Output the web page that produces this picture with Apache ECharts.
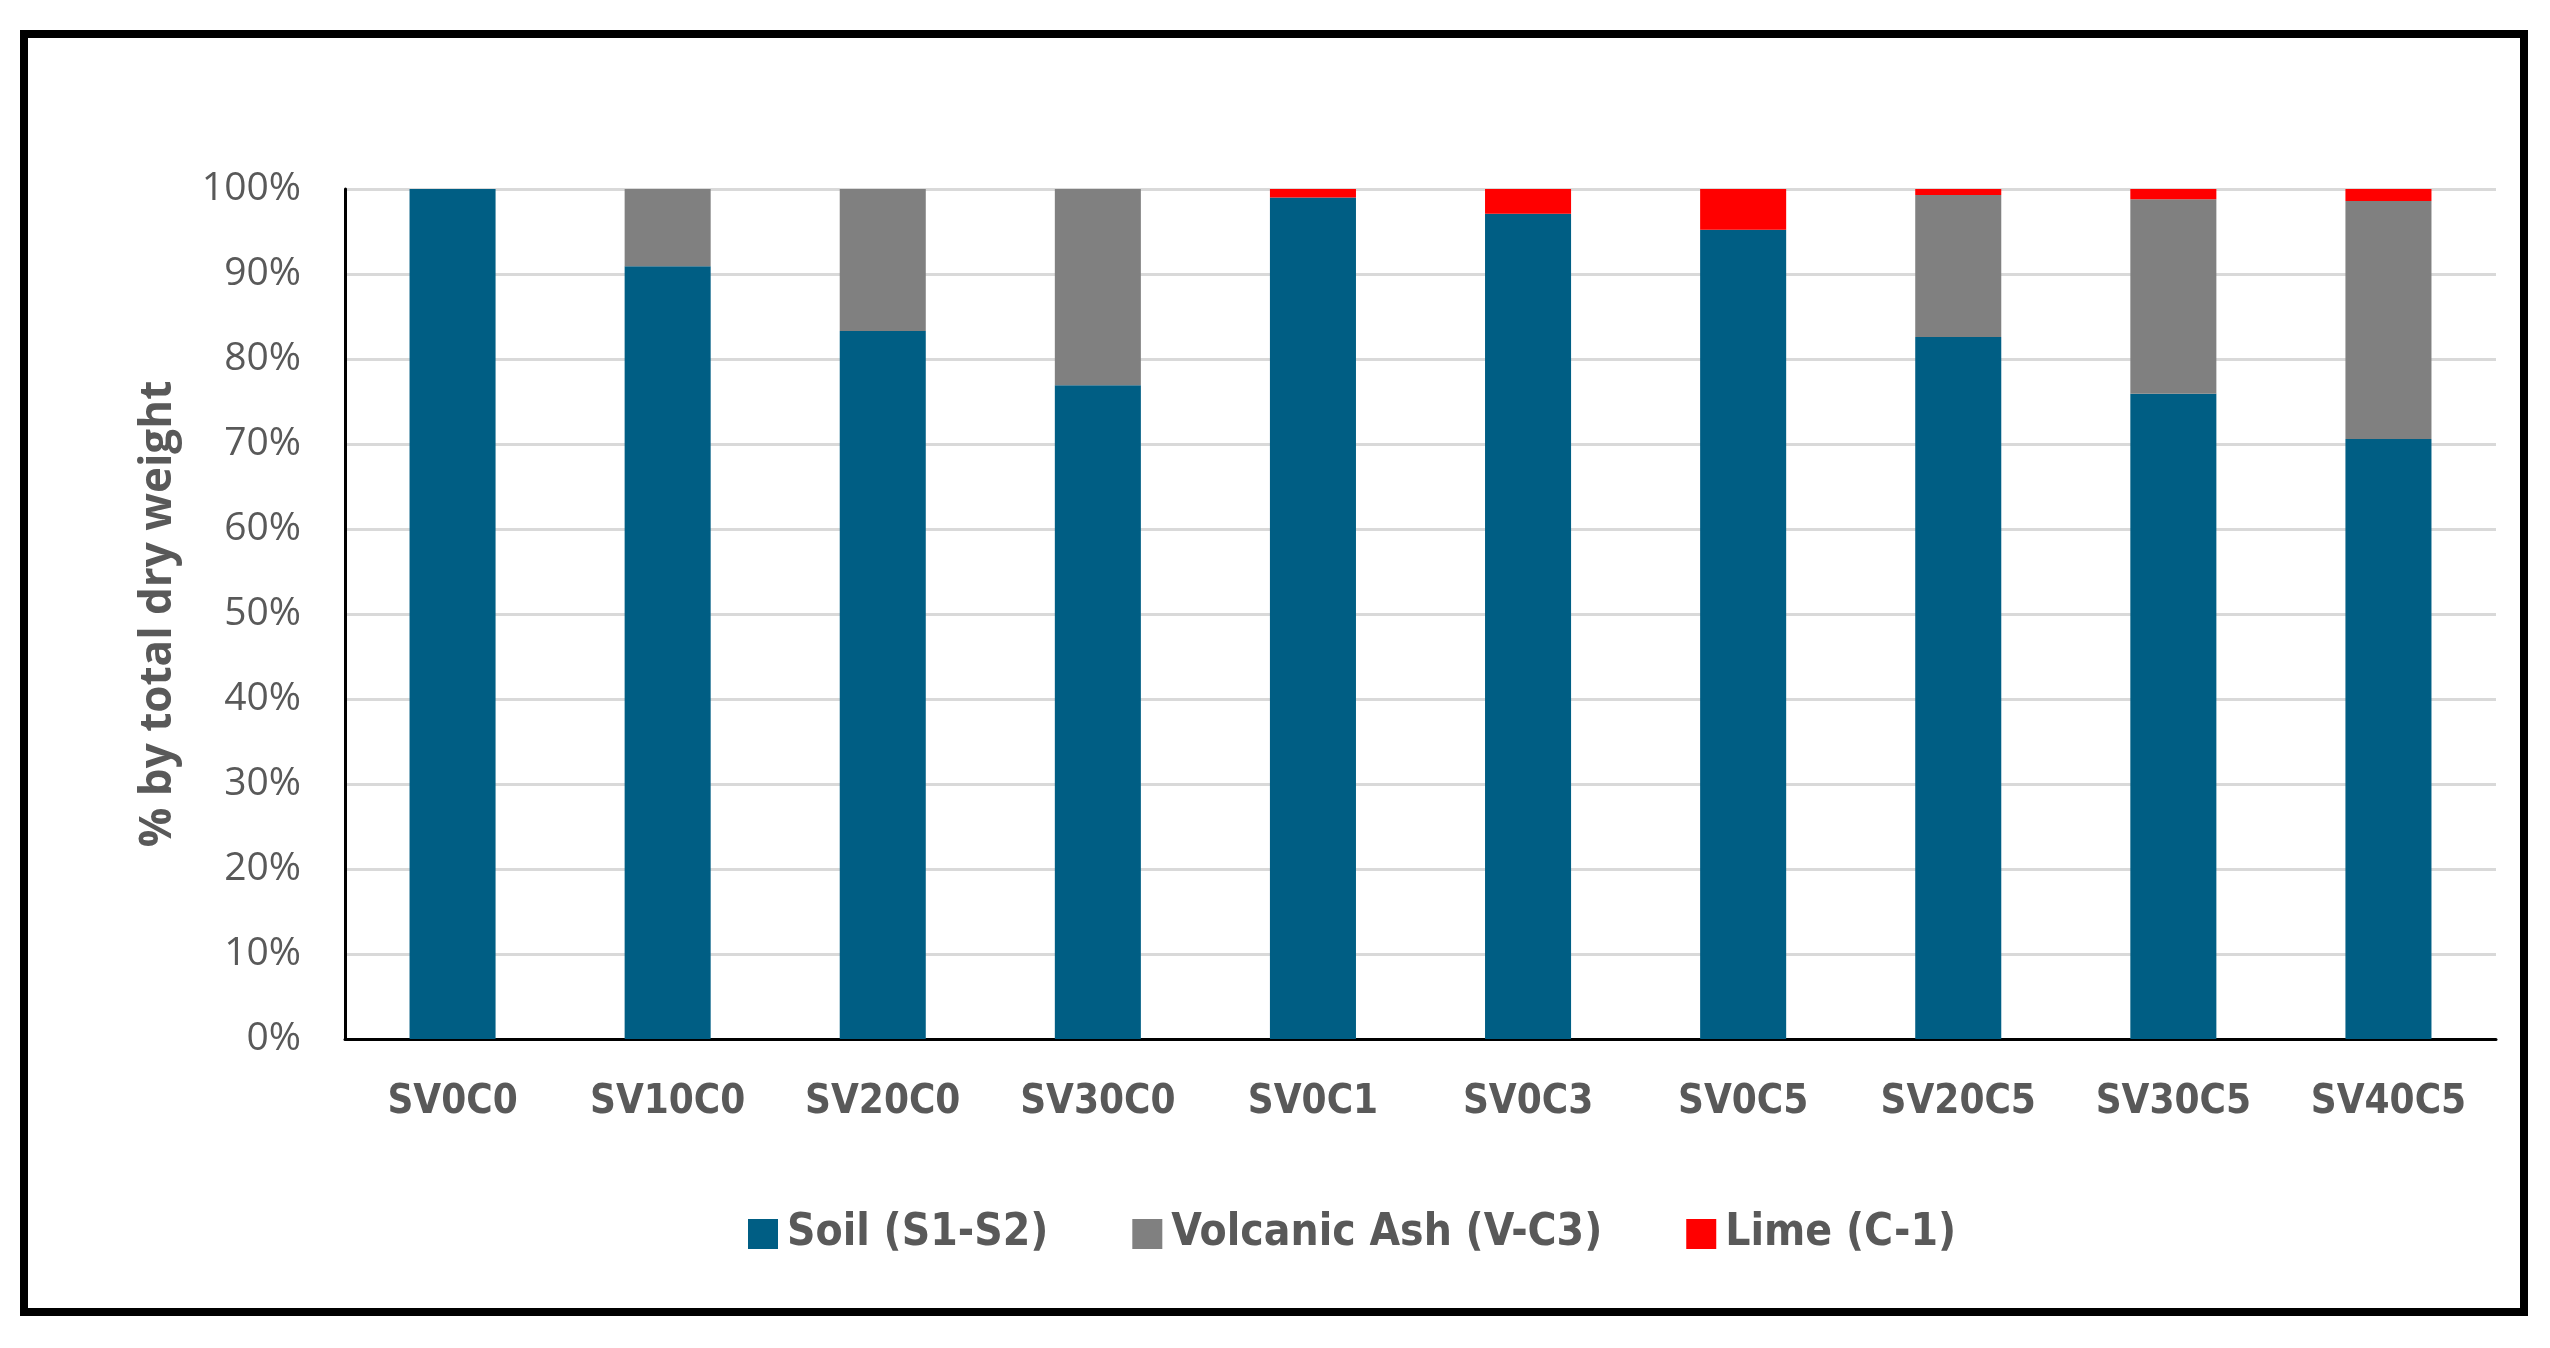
<!DOCTYPE html>
<html>
<head>
<meta charset="utf-8">
<script src="https://cdn.jsdelivr.net/npm/echarts@6/dist/echarts.min.js"></script>
<style>
html,body{margin:0;padding:0;background:#fff;}
#chart{position:absolute;left:0;top:0;width:2550px;height:1348px;}
#frame{position:absolute;left:20px;top:30px;width:2492px;height:1270px;border:8px solid #000;pointer-events:none;}
</style>
</head>
<body>
<div id="chart"></div>
<div id="frame"></div>
<script>
const categories = ['SV0C0','SV10C0','SV20C0','SV30C0','SV0C1','SV0C3','SV0C5','SV20C5','SV30C5','SV40C5'];
const soil = [100, 90.9, 83.3, 76.9, 99.0, 97.1, 95.2, 82.6, 75.9, 70.6];
const ash  = [0, 9.1, 16.7, 23.1, 0, 0, 0, 16.7, 22.9, 28.0];
const lime = [0, 0, 0, 0, 1.0, 2.9, 4.8, 0.7, 1.2, 1.4];
const seriesNames = ['Soil (S1-S2)', 'Volcanic Ash (V-C3)', 'Lime (C-1)'];
const colors = ['#005E84', '#808080', '#FF0000'];
const yTicks = {min: 0, max: 100, interval: 10};

const narrow = "'DejaVu Sans', sans-serif";
const chart = echarts.init(document.getElementById('chart'));
const mk = (name, data, i) => ({
  name, type: 'bar', stack: 'total', data,
  barWidth: '40%',
  itemStyle: {color: colors[i]},
  emphasis: {disabled: true}
});
chart.setOption({
  animation: false,
  backgroundColor: '#fff',
  color: colors,
  grid: {left: 345, right: 54, top: 189, bottom: 309, containLabel: false},
  legend: {
    data: seriesNames,
    left: 743, top: 1207,
    itemWidth: 30, itemHeight: 30, itemGap: 84,
    icon: 'rect',
    textStyle: {color: '#595959', fontSize: 44, fontWeight: 'bold condensed', fontFamily: narrow, padding: [0,0,0,4]}
  },
  xAxis: {
    type: 'category', data: categories,
    axisLine: {lineStyle: {color: '#000', width: 3}},
    axisTick: {show: false},
    axisLabel: {interval: 0, color: '#595959', fontSize: 40, fontWeight: 'bold condensed', fontFamily: narrow, margin: 44}
  },
  yAxis: {
    type: 'value', min: yTicks.min, max: yTicks.max, interval: yTicks.interval,
    name: '% by total dry weight', nameLocation: 'middle', nameGap: 165, nameRotate: 90,
    nameTextStyle: {color: '#595959', fontSize: 44, fontWeight: 'bold', fontFamily: "'Open Sans', 'Noto Sans', sans-serif"},
    axisLine: {show: true, lineStyle: {color: '#000', width: 3}},
    axisTick: {show: false},
    axisLabel: {color: '#595959', fontSize: 39, fontFamily: "'Open Sans', 'Noto Sans', sans-serif", margin: 44, formatter: '{value}%'},
    splitLine: {lineStyle: {color: '#D9D9D9', width: 3}}
  },
  series: [mk(seriesNames[0], soil, 0), mk(seriesNames[1], ash, 1), mk(seriesNames[2], lime, 2)]
});
</script>
</body>
</html>
